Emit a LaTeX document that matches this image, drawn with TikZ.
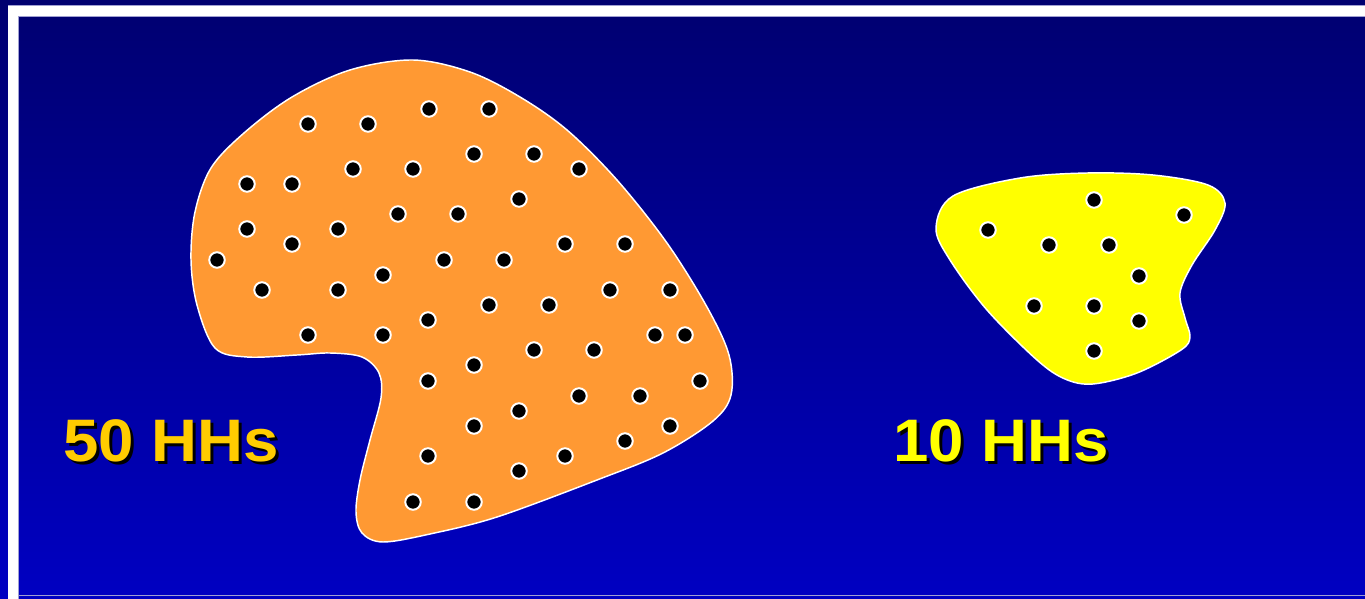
\documentclass[tikz,border=0pt]{standalone}
\usepackage{fontspec}
\setmainfont{Liberation Sans}
\definecolor{bgtop}{RGB}{0,0,112}
\definecolor{bgbot}{RGB}{0,0,194}
\definecolor{blobor}{RGB}{255,153,51}
\definecolor{blobye}{RGB}{255,255,0}
\definecolor{gold}{RGB}{255,204,0}
\definecolor{frameline}{RGB}{160,160,210}
\tikzset{
  hhdot/.style={circle, fill=black, draw=white, line width=1.5pt, inner sep=0pt, minimum size=11.6pt},
  blob/.style={draw=white, line width=1.1pt},
  lbl/.style={anchor=base west, inner sep=0pt, font=\fontsize{45}{54}\selectfont\bfseries},
}
\begin{document}
\begin{tikzpicture}[x=0.75pt, y=-0.75pt]
\useasboundingbox (0,0) rectangle (1365,599);
\shade[top color=bgtop, bottom color=bgbot] (0,0) rectangle (1365,599);
% frame
\fill[white] (8,6) rectangle (1365,16);
\fill[white] (8,6) rectangle (18,599);
\draw[frameline, line width=0.6pt] (18,599) -- (18,16.3) -- (1365,16.3);
\draw[frameline, line width=0.6pt] (8,5.7) -- (1365,5.7);
\draw[frameline, line width=0.5pt] (18,595.5) -- (1365,595.5);
% orange blob
\filldraw[blob, fill=blobor] plot[smooth cycle, tension=0.55] coordinates {
 (413,60) (470,72) (520,97) (567,130) (617,180) (667,243) (707,307) (729,355)
 (731,395) (713,421) (663,453) (597,480) (497,517) (430,534) (383,542) (362,533)
 (356,512) (360,480) (370,440) (381,398) (379,373) (362,357) (330,353) (297,355)
 (247,357) (215,348) (197,305) (191,260) (195,212) (211,168) (244,133) (292,97) (350,70)};
% yellow blob
\filldraw[blob, fill=blobye] plot[smooth cycle, tension=0.55] coordinates {
 (953,196) (1020,178) (1087,173) (1153,175) (1208,185) (1225,203) (1215,230)
 (1192,265) (1180,293) (1185,318) (1190,337) (1181,350) (1137,373) (1093,384)
 (1065,379) (1037,360) (987,310) (950,260) (936,228)};
% dots in the orange blob
\foreach \p [count=\i] in {(429,109),(489,109),(308,124),(368,124),(474,154),(534,154),
 (353,169),(413,169),(579,169),(247,184),(292,184),(519,199),(398,214),(458,214),
 (247,229),(338,229),(292,244),(565,244),(625,244),(217,260),(444,260),(504,260),
 (383,275),(262,290),(338,290),(610,290),(670,290),(489,305),(549,305),(428,320),
 (308,335),(383,335),(655,335),(685,335),(534,350),(594,350),(474,365),(428,381),
 (700,381),(579,396),(640,396),(519,411),(474,426),(670,426),(625,441),(428,456),
 (565,456),(519,471),(413,502),(474,502)}
  \node[hhdot] (a\i) at \p {};
% dots in the yellow blob
\foreach \p [count=\i] in {(1094,200),(1184,215),(988,230),(1049,245),(1109,245),
 (1139,276),(1034,306),(1094,306),(1139,321),(1094,351)}
  \node[hhdot] (b\i) at \p {};
% labels
\node[lbl, text=black] (l1s) at (66,464) {\scalebox{1.06}[1]{50 HHs}};
\node[lbl, text=gold] (l1) at (63,461) {\scalebox{1.06}[1]{50 HHs}};
\node[lbl, text=black] (l2s) at (896,464) {\scalebox{1.06}[1]{10 HHs}};
\node[lbl, text=blobye] (l2) at (893,461) {\scalebox{1.06}[1]{10 HHs}};
\end{tikzpicture}
\end{document}
